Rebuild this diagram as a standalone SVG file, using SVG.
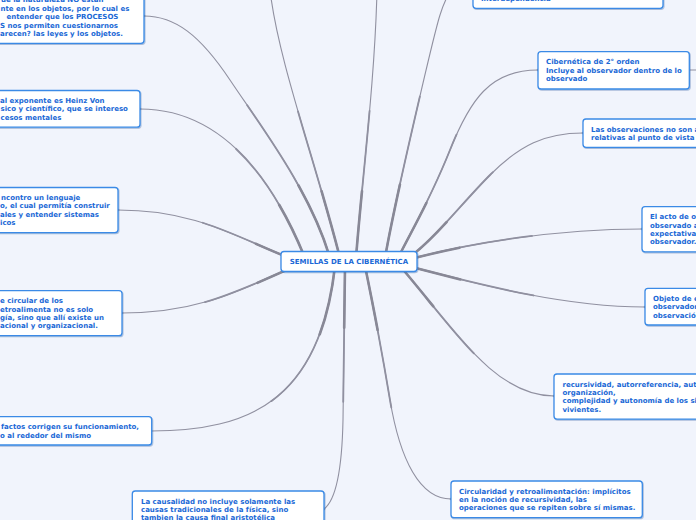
<svg xmlns="http://www.w3.org/2000/svg" xmlns:xlink="http://www.w3.org/1999/xlink" width="696" height="520" viewBox="0 0 696 520">
<style>
.bg{fill:#f1f4fc}
.box{fill:#ffffff;stroke:#3a8ae6;stroke-width:1.3;filter:url(#sh)}
.t{font-family:"DejaVu Sans",Verdana,sans-serif;font-weight:bold;font-size:7px;fill:#1a68d6}
.c{fill:none;stroke:#9090a0;stroke-linecap:round}
.c1{stroke-width:1.1}
.c2{stroke-width:1.8;stroke-dasharray:0 45 55}
.c3{stroke-width:2.6;stroke-dasharray:0 75 25;stroke:#888896}
</style>
<defs>
<filter id="sh" x="-10%" y="-20%" width="120%" height="150%">
<feDropShadow dx="0.8" dy="1" stdDeviation="0.7" flood-color="#1f4f99" flood-opacity="0.35"/>
</filter>
<path id="pN1" pathLength="100" d="M144,16 C175,16 200,35 230,80 S310,190 330,258"/>
<path id="pN2" pathLength="100" d="M140,109 C210,109 265,160 305,258"/>
<path id="pN3" pathLength="100" d="M118,210 C200,210 240,240 300,262"/>
<path id="pN4" pathLength="100" d="M122,313 C200,313 240,290 300,264"/>
<path id="pN5" pathLength="100" d="M151,431 C250,431 320,400 335,266"/>
<path id="pN6" pathLength="100" d="M324,509 C336,500 342,470 343,420 L345,266"/>
<path id="pT1" pathLength="100" d="M270,-10 C278,60 315,160 340,258"/>
<path id="pT2" pathLength="100" d="M377,-10 C375,80 362,180 356,258"/>
<path id="pR1" pathLength="100" d="M473,-18 C452,-18 446,-4 440,15 S395,200 385,258"/>
<path id="pR2" pathLength="100" d="M538,70 C490,70 470,100 450,150 S412,230 398,258"/>
<path id="pR3" pathLength="100" d="M583,133 C545,133 520,145 490,175 S430,245 405,260"/>
<path id="pR4" pathLength="100" d="M642,229 C560,229 470,242 400,262"/>
<path id="pR5" pathLength="100" d="M645,307 C560,307 470,282 400,264"/>
<path id="pR6" pathLength="100" d="M554,396 C495,396 455,330 400,266"/>
<path id="pR7" pathLength="100" d="M451,499 C420,499 400,460 390,400 S372,300 365,266"/>
</defs>
<rect class="bg" x="0" y="0" width="696" height="520"/>
<g id="connectors">
<use href="#pN1" class="c c1"/><use href="#pN1" class="c c2"/><use href="#pN1" class="c c3"/>
<use href="#pN2" class="c c1"/><use href="#pN2" class="c c2"/><use href="#pN2" class="c c3"/>
<use href="#pN3" class="c c1"/><use href="#pN3" class="c c2"/><use href="#pN3" class="c c3"/>
<use href="#pN4" class="c c1"/><use href="#pN4" class="c c2"/><use href="#pN4" class="c c3"/>
<use href="#pN5" class="c c1"/><use href="#pN5" class="c c2"/><use href="#pN5" class="c c3"/>
<use href="#pN6" class="c c1"/><use href="#pN6" class="c c2"/><use href="#pN6" class="c c3"/>
<use href="#pT1" class="c c1"/><use href="#pT1" class="c c2"/><use href="#pT1" class="c c3"/>
<use href="#pT2" class="c c1"/><use href="#pT2" class="c c2"/><use href="#pT2" class="c c3"/>
<use href="#pR1" class="c c1"/><use href="#pR1" class="c c2"/><use href="#pR1" class="c c3"/>
<use href="#pR2" class="c c1"/><use href="#pR2" class="c c2"/><use href="#pR2" class="c c3"/>
<use href="#pR3" class="c c1"/><use href="#pR3" class="c c2"/><use href="#pR3" class="c c3"/>
<use href="#pR4" class="c c1"/><use href="#pR4" class="c c2"/><use href="#pR4" class="c c3"/>
<use href="#pR5" class="c c1"/><use href="#pR5" class="c c2"/><use href="#pR5" class="c c3"/>
<use href="#pR6" class="c c1"/><use href="#pR6" class="c c2"/><use href="#pR6" class="c c3"/>
<use href="#pR7" class="c c1"/><use href="#pR7" class="c c2"/><use href="#pR7" class="c c3"/>
<path class="c c1" d="M689,70 L700,70"/>
</g>
<g id="root">
<rect class="box" x="281" y="251.5" width="136" height="20" rx="3"/>
<text class="t" x="349" y="264.3" text-anchor="middle">SEMILLAS DE LA CIBERNÉTICA</text>
</g>
<g id="n1">
<rect class="box" x="-20" y="-12" width="164" height="55.3" rx="3"/>
<text class="t" x="1" y="2.4">ue la naturaleza NO están</text>
<text class="t" x="0.5" y="10.8">nte en los objetos, por lo cual es</text>
<text class="t" x="6.5" y="19.2">entender que los PROCESOS</text>
<text class="t" x="0" y="27.6">S nos permiten cuestionarnos</text>
<text class="t" x="0" y="36">arecen? las leyes y los objetos.</text>
</g>
<g id="n2">
<rect class="box" x="-20" y="90.5" width="160" height="36.7" rx="3"/>
<text class="t" x="0" y="103">al exponente es Heinz Von</text>
<text class="t" x="0.5" y="111.4">sico y científico, que se intereso</text>
<text class="t" x="0.5" y="119.8">cesos mentales</text>
</g>
<g id="n3">
<rect class="box" x="-20" y="187.5" width="138" height="45.1" rx="3"/>
<text class="t" x="1" y="200">ncontro un lenguaje</text>
<text class="t" x="0" y="208.4">o, el cual permitía construir</text>
<text class="t" x="0" y="216.8">ales y entender sistemas</text>
<text class="t" x="0" y="225.2">icos</text>
</g>
<g id="n4">
<rect class="box" x="-20" y="290.6" width="142" height="45.1" rx="3"/>
<text class="t" x="0" y="303.1">e circular de los</text>
<text class="t" x="0" y="311.5">etroalimenta no es solo</text>
<text class="t" x="0" y="319.9">gía, sino que allí existe un</text>
<text class="t" x="0" y="328.3">acional y organizacional.</text>
</g>
<g id="n5">
<rect class="box" x="-20" y="416.7" width="171.7" height="28.3" rx="3"/>
<text class="t" x="1" y="429.2">factos corrigen su funcionamiento,</text>
<text class="t" x="0" y="437.6">o al rededor del mismo</text>
</g>
<g id="n6">
<rect class="box" x="132.3" y="491" width="191.7" height="36.7" rx="3"/>
<text class="t" x="141" y="503.5">La causalidad no incluye solamente las</text>
<text class="t" x="141" y="511.9">causas tradicionales de la física, sino</text>
<text class="t" x="141" y="520.3">tambien la causa final aristotélica</text>
</g>
<g id="r1">
<rect class="box" x="473" y="-40" width="190" height="48.3" rx="3"/>
<text class="t" x="481" y="0.9">Interdependencia</text>
</g>
<g id="r2">
<rect class="box" x="538" y="51.7" width="151.3" height="37.3" rx="3"/>
<text class="t" x="546" y="64.2">Cibernética de 2° orden</text>
<text class="t" x="546" y="72.6">Incluye al observador dentro de lo</text>
<text class="t" x="546" y="81">observado</text>
</g>
<g id="r3">
<rect class="box" x="583" y="119" width="200" height="28.3" rx="3"/>
<text class="t" x="591" y="131.5">Las observaciones no son a</text>
<text class="t" x="591" y="139.9">relativas al punto de vista</text>
</g>
<g id="r4">
<rect class="box" x="642" y="206.7" width="120" height="45.1" rx="3"/>
<text class="t" x="650" y="219.2">El acto de o</text>
<text class="t" x="650" y="227.6">observado a</text>
<text class="t" x="650" y="236">expectativa</text>
<text class="t" x="650" y="244.4">observador.</text>
</g>
<g id="r5">
<rect class="box" x="645" y="288.3" width="120" height="36.7" rx="3"/>
<text class="t" x="653" y="300.8">Objeto de e</text>
<text class="t" x="653" y="309.2">observador</text>
<text class="t" x="653" y="317.6">observació</text>
</g>
<g id="r6">
<rect class="box" x="554" y="374" width="200" height="45.1" rx="3"/>
<text class="t" x="562.5" y="386.5">recursividad, autorreferencia, auto</text>
<text class="t" x="562.5" y="394.9">organización,</text>
<text class="t" x="562.5" y="403.3">complejidad y autonomía de los si</text>
<text class="t" x="562.5" y="411.7">vivientes.</text>
</g>
<g id="r7">
<rect class="box" x="451" y="481" width="191.3" height="36.7" rx="3"/>
<text class="t" x="459" y="493.5">Circularidad y retroalimentación: implícitos</text>
<text class="t" x="459" y="501.9">en la noción de recursividad, las</text>
<text class="t" x="459" y="510.3">operaciones que se repiten sobre sí mismas.</text>
</g>
</svg>
